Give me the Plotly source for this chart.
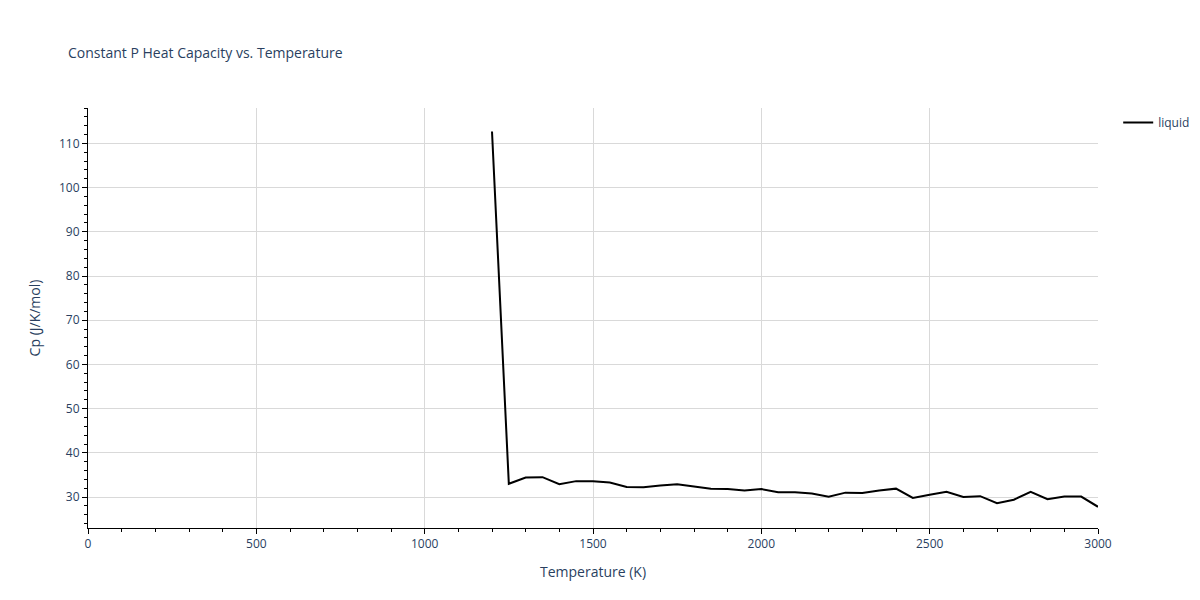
import plotly.graph_objects as go

temps = list(range(1200, 3001, 50))
cp = [112.7, 33.0, 34.4, 34.5, 32.9, 33.6, 33.6, 33.3, 32.3, 32.2, 32.6, 32.9, 32.4, 31.9, 31.8,
      31.5, 31.8, 31.1, 31.1, 30.8, 30.1, 31.0, 30.9, 31.5, 31.9, 29.8, 30.5, 31.2, 30.0, 30.2,
      28.6, 29.4, 31.2, 29.5, 30.1, 30.1, 27.8]

fig = go.Figure(go.Scatter(x=temps, y=cp, mode="lines", name="liquid",
                           line=dict(color="black", width=2), showlegend=True))
axis = dict(showgrid=True, gridcolor="#d9d9d9", showline=True, linecolor="black",
            ticks="outside", tickcolor="black", minor=dict(ticks="outside", tickcolor="black", ticklen=3),
            zeroline=False)
fig.update_layout(
    template="plotly_white", width=1200, height=600,
    title=dict(text="Constant P Heat Capacity vs. Temperature", x=0.05, font=dict(size=14)),
    xaxis=dict(title="Temperature (K)", range=[0, 3000], dtick=500, **axis),
    yaxis=dict(title="Cp (J/K/mol)", range=[23, 118], dtick=10, **axis),
    legend=dict(x=1.02, y=1, yanchor="top"),
    margin=dict(l=80, r=110, t=100, b=80),
)
fig.write_html("out.html")
